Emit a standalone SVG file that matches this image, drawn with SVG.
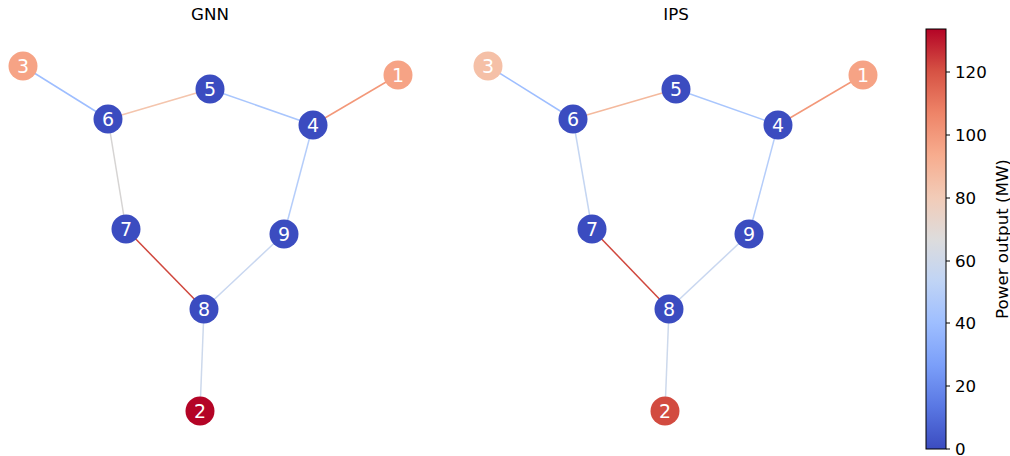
<svg xmlns="http://www.w3.org/2000/svg" width="1010" height="456" viewBox="0 0 1010 456">
<defs>
<linearGradient id="cw" x1="0" y1="1" x2="0" y2="0">
<stop offset="0" stop-color="#3b4cc0"/>
<stop offset="0.1" stop-color="#5977e3"/>
<stop offset="0.2" stop-color="#7b9ff9"/>
<stop offset="0.3" stop-color="#9ebeff"/>
<stop offset="0.4" stop-color="#c0d4f5"/>
<stop offset="0.5" stop-color="#dddcdc"/>
<stop offset="0.6" stop-color="#f2cbb7"/>
<stop offset="0.7" stop-color="#f7ac8e"/>
<stop offset="0.8" stop-color="#ee8468"/>
<stop offset="0.9" stop-color="#d65244"/>
<stop offset="1" stop-color="#b40426"/>
</linearGradient>
<style>
.e{stroke-width:1.5;fill:none}
.n circle{stroke:none}
.n text{font-family:"DejaVu Sans",sans-serif;font-size:19px;fill:#fff;text-anchor:middle;dominant-baseline:central}
.t{font-family:"DejaVu Sans",sans-serif;font-size:16.67px;fill:#000}
.tk{stroke:#000;stroke-width:1}
</style>
</defs>
<rect width="1010" height="456" fill="#fff"/>
<text class="t" x="210" y="20" text-anchor="middle">GNN</text>
<text class="t" x="676" y="20" text-anchor="middle">IPS</text>
<g id="connectors">
<line class="e" x1="23" y1="66" x2="108" y2="119" stroke="#9ebeff"/>
<line class="e" x1="108" y1="119" x2="210" y2="89" stroke="#f4c5ad"/>
<line class="e" x1="210" y1="89" x2="313" y2="125" stroke="#a9c6fd"/>
<line class="e" x1="313" y1="125" x2="398" y2="75" stroke="#f39879"/>
<line class="e" x1="108" y1="119" x2="126" y2="229" stroke="#d6d4d3"/>
<line class="e" x1="313" y1="125" x2="284" y2="234" stroke="#b5cdfa"/>
<line class="e" x1="126" y1="229" x2="204" y2="309" stroke="#d0473d"/>
<line class="e" x1="284" y1="234" x2="204" y2="309" stroke="#c9d7f0"/>
<line class="e" x1="204" y1="309" x2="200" y2="411" stroke="#cdd9ec"/>
<line class="e" x1="488" y1="66" x2="573" y2="119" stroke="#9ebeff"/>
<line class="e" x1="573" y1="119" x2="676" y2="89" stroke="#f4b99d"/>
<line class="e" x1="676" y1="89" x2="778" y2="125" stroke="#a9c6fd"/>
<line class="e" x1="778" y1="125" x2="863" y2="75" stroke="#f39879"/>
<line class="e" x1="573" y1="119" x2="592" y2="229" stroke="#c5d6f2"/>
<line class="e" x1="778" y1="125" x2="749" y2="234" stroke="#b5cdfa"/>
<line class="e" x1="592" y1="229" x2="669" y2="309" stroke="#d0473d"/>
<line class="e" x1="749" y1="234" x2="669" y2="309" stroke="#c9d7f0"/>
<line class="e" x1="669" y1="309" x2="665" y2="411" stroke="#cdd9ec"/>
</g>
<g id="gnn-3" class="n"><circle cx="23" cy="66" r="14.5" fill="#f6a385"/><text x="23" y="66">3</text></g>
<g id="gnn-6" class="n"><circle cx="108" cy="119" r="14.5" fill="#3b4cc0"/><text x="108" y="119">6</text></g>
<g id="gnn-5" class="n"><circle cx="210" cy="89" r="14.5" fill="#3b4cc0"/><text x="210" y="89">5</text></g>
<g id="gnn-4" class="n"><circle cx="313" cy="125" r="14.5" fill="#3b4cc0"/><text x="313" y="125">4</text></g>
<g id="gnn-1" class="n"><circle cx="398" cy="75" r="14.5" fill="#f6a385"/><text x="398" y="75">1</text></g>
<g id="gnn-7" class="n"><circle cx="126" cy="229" r="14.5" fill="#3b4cc0"/><text x="126" y="229">7</text></g>
<g id="gnn-9" class="n"><circle cx="284" cy="234" r="14.5" fill="#3b4cc0"/><text x="284" y="234">9</text></g>
<g id="gnn-8" class="n"><circle cx="204" cy="309" r="14.5" fill="#3b4cc0"/><text x="204" y="309">8</text></g>
<g id="gnn-2" class="n"><circle cx="200" cy="411" r="14.5" fill="#b40426"/><text x="200" y="411">2</text></g>
<g id="ips-3" class="n"><circle cx="488" cy="66" r="14.5" fill="#f5c0a7"/><text x="488" y="66">3</text></g>
<g id="ips-6" class="n"><circle cx="573" cy="119" r="14.5" fill="#3b4cc0"/><text x="573" y="119">6</text></g>
<g id="ips-5" class="n"><circle cx="676" cy="89" r="14.5" fill="#3b4cc0"/><text x="676" y="89">5</text></g>
<g id="ips-4" class="n"><circle cx="778" cy="125" r="14.5" fill="#3b4cc0"/><text x="778" y="125">4</text></g>
<g id="ips-1" class="n"><circle cx="863" cy="75" r="14.5" fill="#f6a385"/><text x="863" y="75">1</text></g>
<g id="ips-7" class="n"><circle cx="592" cy="229" r="14.5" fill="#3b4cc0"/><text x="592" y="229">7</text></g>
<g id="ips-9" class="n"><circle cx="749" cy="234" r="14.5" fill="#3b4cc0"/><text x="749" y="234">9</text></g>
<g id="ips-8" class="n"><circle cx="669" cy="309" r="14.5" fill="#3b4cc0"/><text x="669" y="309">8</text></g>
<g id="ips-2" class="n"><circle cx="665" cy="411" r="14.5" fill="#d24b40"/><text x="665" y="411">2</text></g>
<g id="colorbar">
<rect x="926" y="29" width="20" height="420" fill="url(#cw)" stroke="#000" stroke-width="1"/>
<line class="tk" x1="946" y1="449" x2="950" y2="449"/>
<line class="tk" x1="946" y1="386" x2="950" y2="386"/>
<line class="tk" x1="946" y1="323" x2="950" y2="323"/>
<line class="tk" x1="946" y1="261" x2="950" y2="261"/>
<line class="tk" x1="946" y1="198" x2="950" y2="198"/>
<line class="tk" x1="946" y1="135" x2="950" y2="135"/>
<line class="tk" x1="946" y1="72" x2="950" y2="72"/>
<text class="t" x="955" y="455">0</text>
<text class="t" x="955" y="392">20</text>
<text class="t" x="955" y="329">40</text>
<text class="t" x="955" y="267">60</text>
<text class="t" x="955" y="204">80</text>
<text class="t" x="955" y="141">100</text>
<text class="t" x="955" y="78">120</text>
<text class="t" x="1008" y="239" text-anchor="middle" transform="rotate(-90 1008 239)">Power output (MW)</text>
</g>
</svg>
